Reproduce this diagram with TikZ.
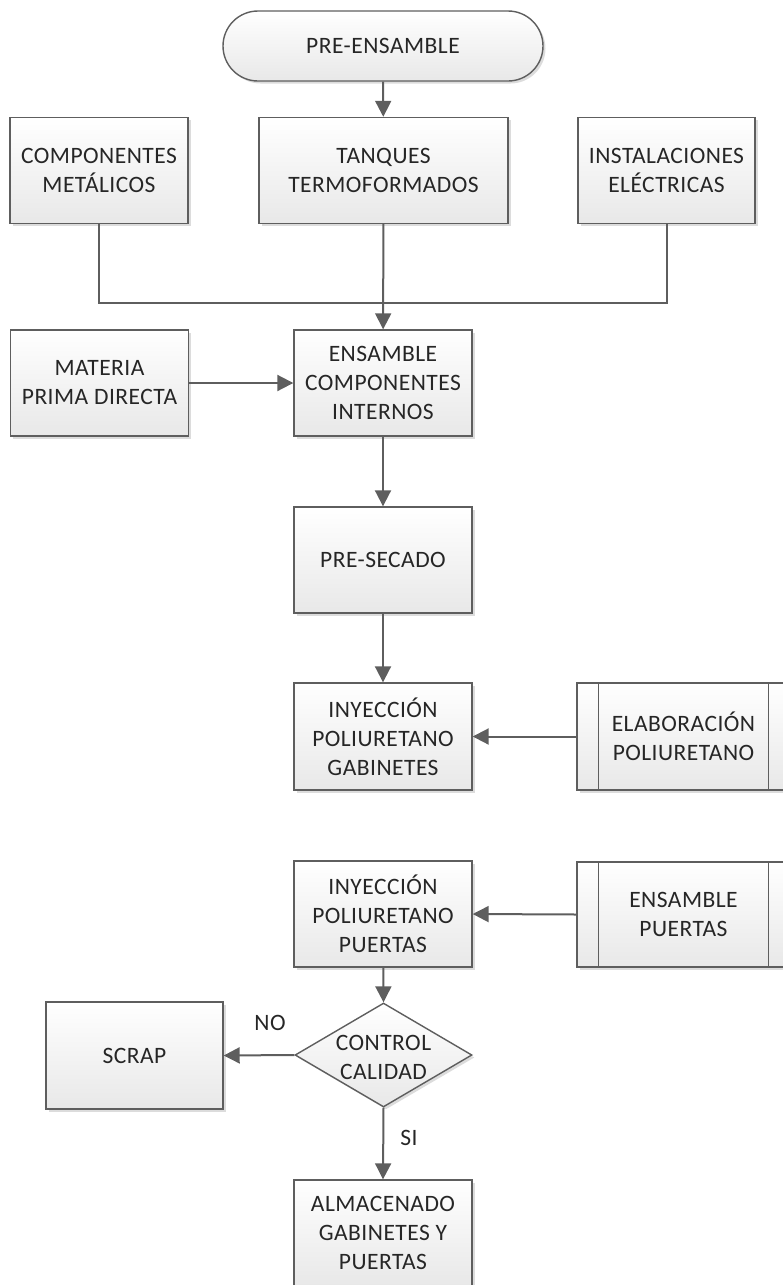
\documentclass[tikz,border=0pt]{standalone}
\usepackage{fontspec}
\setmainfont{Carlito}[LetterSpace=2]
\usetikzlibrary{arrows.meta,shapes.geometric,shadows}
\definecolor{linegray}{HTML}{5E5E5E}
\definecolor{txtgray}{HTML}{262626}
\tikzset{
  box/.style={draw=linegray, line width=1.4pt, rectangle, top color=white, bottom color=black!9,
    drop shadow={shadow xshift=2.5pt, shadow yshift=-2.5pt, fill=black!30, opacity=0.45},
    minimum width=178pt, minimum height=106pt, inner sep=2pt, align=center, text=txtgray,
    font=\fontsize{23.5}{29}\selectfont},
  predef/.style={box, minimum width=213pt,
    path picture={
      \draw[linegray, line width=1.4pt] ([xshift=21.5pt]path picture bounding box.north west) -- ([xshift=21.5pt]path picture bounding box.south west);
      \draw[linegray, line width=1.4pt] ([xshift=-21.5pt]path picture bounding box.north east) -- ([xshift=-21.5pt]path picture bounding box.south east);
    }},
  term/.style={box, rounded corners=35pt, minimum width=320pt, minimum height=70pt},
  dia/.style={draw=linegray, line width=1.4pt, diamond, aspect=1.7, top color=white, bottom color=black!9,
    drop shadow={shadow xshift=2.5pt, shadow yshift=-2.5pt, fill=black!30, opacity=0.45},
    minimum width=177pt, minimum height=104pt, inner sep=0pt},
  diatext/.style={align=center, text=txtgray, font=\fontsize{23.5}{29}\selectfont, inner sep=0pt},
  lbl/.style={text=txtgray, font=\fontsize{23.5}{29}\selectfont, inner sep=0pt},
  conn/.style={draw=linegray, line width=2pt},
  arr/.style={conn, -{Triangle[length=16pt, width=16pt]}},
}
\begin{document}
\begin{tikzpicture}[x=1pt, y=-1pt]
\useasboundingbox (0,0) rectangle (783,1285);
\clip (0,0) rectangle (783,1285);

\node[term] (pre) at (383,46) {PRE-ENSAMBLE};
\node[box] (comp) at (99,170.5) {COMPONENTES\\METÁLICOS};
\node[box, minimum width=249pt] (tanq) at (383.5,170.5) {TANQUES\\TERMOFORMADOS};
\node[box, minimum width=177pt] (inst) at (666.5,170.5) {INSTALACIONES\\ELÉCTRICAS};
\node[box] (mat) at (99.5,383) {MATERIA\\PRIMA DIRECTA};
\node[box] (ens) at (383,383) {ENSAMBLE\\COMPONENTES\\INTERNOS};
\node[box] (presec) at (383,560) {PRE-SECADO};
\node[box, minimum height=107pt] (inygab) at (383,736.5) {INYECCIÓN\\POLIURETANO\\GABINETES};
\node[predef, minimum height=107pt] (elab) at (683.5,736.5) {ELABORACIÓN\\POLIURETANO};
\node[box] (inyp) at (383,914) {INYECCIÓN\\POLIURETANO\\PUERTAS};
\node[predef, minimum height=105pt] (ensp) at (683.5,914.5) {ENSAMBLE\\PUERTAS};
\node[dia] (cc) at (383.5,1055) {};
\node[diatext] (cctext) at (383.5,1057) {CONTROL\\CALIDAD};
\node[box, minimum width=177pt, minimum height=107pt] (scrap) at (134.5,1055.5) {SCRAP};
\node[box] (alm) at (383,1233) {ALMACENADO\\GABINETES Y\\PUERTAS};

\coordinate (j) at (383,303);

\draw[arr] (pre) -- (tanq);
\draw[conn] (comp.south) |- (j);
\draw[conn] (inst.south) |- (j);
\draw[arr] (tanq) -- (ens);
\draw[arr] (mat) -- (ens);
\draw[arr] (ens) -- (presec);
\draw[arr] (presec) -- (inygab);
\draw[arr] (elab) -- (inygab);
\draw[arr] (ensp.west) -- (inyp.east);
\draw[arr] (inyp) -- (cc.north);
\draw[arr] (cc.west) -- (scrap.east);
\draw[arr] (cc.south) -- (alm.north);

\node[lbl] (no) at (270,1023) {NO};
\node[lbl] (si) at (409,1138) {SI};
\end{tikzpicture}
\end{document}
